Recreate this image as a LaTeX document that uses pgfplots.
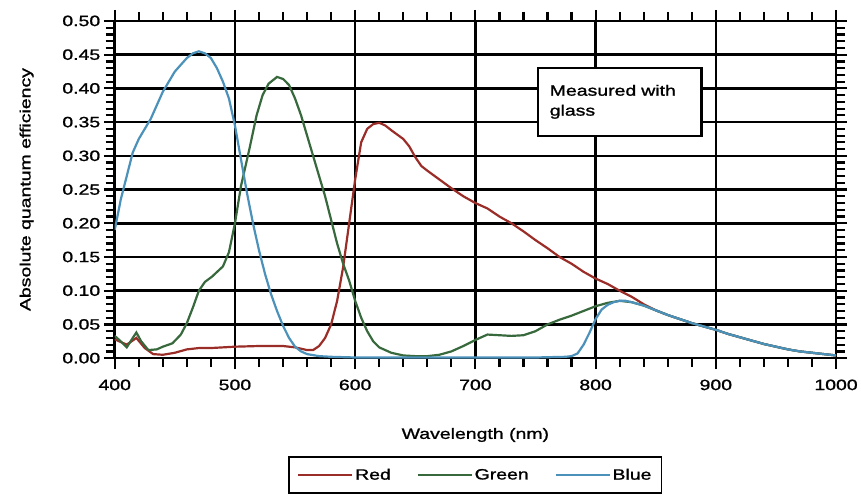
\documentclass[border=0pt]{standalone}
\usepackage{pgfplots}
\pgfplotsset{compat=1.18}
\usepackage{fontspec}
\setmainfont[FakeStretch=1.3, FakeBold=1.2]{Liberation Sans}

\definecolor{cred}{RGB}{155,45,40}
\definecolor{cgreen}{RGB}{55,105,60}
\definecolor{cblue}{RGB}{75,145,185}

\begin{document}
\begin{tikzpicture}
\begin{axis}[
    scale only axis,
    width=723pt, height=338pt,
    xmin=400, xmax=1000,
    ymin=0, ymax=0.5,
    xtick={400,500,...,1000},
    ytick={0,0.05,...,0.5},
    minor x tick num=4,
    minor y tick num=4,
    tick align=outside,
    major tick length=11pt,
    minor tick length=9pt,
    tick style={black, line width=2.2pt},
    grid=major,
    major grid style={black, line width=2.6pt},
    axis line style={black, line width=2.6pt},
    tick label style={font=\fontsize{15}{17}\selectfont},
    /pgf/number format/assume math mode=true,
    yticklabel style={/pgf/number format/.cd, fixed, fixed zerofill, precision=2},
    xticklabel style={yshift=-7pt, /pgf/number format/.cd, fixed, set thousands separator={}},
    xlabel={Wavelength (nm)},
    ylabel={Absolute quantum efficiency},
    label style={font=\fontsize{15}{17}\selectfont},
    xlabel style={yshift=-31pt},
    ylabel style={yshift=22pt},
    legend columns=3,
    legend style={
        at={(0.5,-0.29)}, anchor=north,
        draw=black, line width=1.8pt,
        font=\fontsize{15}{17}\selectfont,
        /tikz/every even column/.append style={column sep=24pt},
        inner xsep=8pt, inner ysep=10pt,
    },
    legend image code/.code={\draw[#1, line width=2pt] (0pt,0pt) -- (54pt,0pt);},
    every axis plot/.append style={line width=2.2pt, no marks},
]
\addplot[cred] coordinates {
(400,0.028) (410,0.02) (418,0.03) (425,0.015) (432,0.006) (440,0.005)
(450,0.008) (460,0.013) (470,0.015) (480,0.015) (500,0.017) (520,0.018)
(540,0.018) (550,0.016) (560,0.012) (565,0.012) (570,0.018) (575,0.03)
(580,0.05) (585,0.085) (590,0.135) (595,0.2) (600,0.265) (605,0.32)
(610,0.34) (615,0.347) (620,0.349) (625,0.345) (630,0.338) (640,0.325)
(645,0.314) (650,0.298) (655,0.285) (660,0.278) (670,0.265) (680,0.252)
(690,0.24) (700,0.23) (710,0.222) (720,0.21) (730,0.2) (740,0.188)
(750,0.175) (760,0.163) (770,0.15) (780,0.14) (790,0.128) (800,0.118)
(810,0.11) (820,0.1) (830,0.091) (840,0.08) (850,0.071) (860,0.064)
(870,0.058) (880,0.052) (890,0.047) (900,0.042) (910,0.036) (920,0.031)
(930,0.026) (940,0.021) (950,0.017) (960,0.013) (970,0.01) (980,0.008)
(990,0.006) (1000,0.004)
};
\addplot[cgreen] coordinates {
(400,0.033) (405,0.025) (410,0.016) (415,0.03) (418,0.038) (422,0.025)
(428,0.012) (435,0.013) (440,0.017) (448,0.022) (455,0.035) (460,0.052)
(465,0.075) (470,0.1) (475,0.113) (481,0.121) (490,0.136) (495,0.157)
(500,0.2) (505,0.255) (512,0.31) (518,0.36) (523,0.39) (528,0.407)
(535,0.417) (540,0.414) (545,0.405) (550,0.385) (555,0.36) (560,0.33)
(565,0.3) (570,0.27) (575,0.24) (580,0.205) (585,0.17) (590,0.14)
(595,0.115) (600,0.085) (605,0.06) (610,0.04) (615,0.025) (620,0.016)
(630,0.008) (640,0.004) (650,0.003) (660,0.003) (670,0.005) (680,0.01)
(690,0.018) (700,0.027) (710,0.035) (720,0.034) (730,0.033) (740,0.034)
(750,0.04) (760,0.05) (770,0.057) (780,0.063) (790,0.07) (800,0.077)
(810,0.082) (820,0.085) (830,0.083) (840,0.078) (850,0.071) (860,0.064)
(870,0.058) (880,0.052) (890,0.047) (900,0.042) (910,0.036) (920,0.031)
(930,0.026) (940,0.021) (950,0.017) (960,0.013) (970,0.01) (980,0.008)
(990,0.006) (1000,0.004)
};
\addplot[cblue] coordinates {
(400,0.19) (405,0.235) (410,0.27) (415,0.305) (420,0.325) (430,0.355)
(440,0.395) (450,0.425) (460,0.445) (465,0.452) (470,0.455) (475,0.452)
(480,0.445) (485,0.43) (490,0.41) (495,0.385) (500,0.345) (505,0.295)
(510,0.245) (515,0.2) (520,0.16) (525,0.125) (530,0.095) (535,0.07)
(540,0.048) (545,0.03) (550,0.017) (555,0.01) (560,0.006) (570,0.003)
(580,0.002) (600,0.001) (650,0.001) (700,0.001) (750,0.001) (775,0.002)
(780,0.003) (785,0.007) (790,0.02) (795,0.038) (800,0.058) (805,0.072)
(810,0.079) (815,0.083) (820,0.085) (825,0.085) (830,0.083) (840,0.078)
(850,0.071) (860,0.064) (870,0.058) (880,0.052) (890,0.047) (900,0.042)
(910,0.036) (920,0.031) (930,0.026) (940,0.021) (950,0.017) (960,0.013)
(970,0.01) (980,0.008) (990,0.006) (1000,0.004)
};
\legend{Red, Green, Blue}
\node[draw=black, line width=2.2pt, fill=white, anchor=north west,
      minimum width=163pt, minimum height=68pt, text width=140pt,
      align=left, inner xsep=12pt, font=\fontsize{15}{20}\selectfont]
  at (axis cs:751,0.432) {Measured with\\glass};
\end{axis}
\path ([xshift=-115pt,yshift=21pt]current axis.north west)
  rectangle ([xshift=23pt,yshift=-136pt]current axis.south east);
\end{tikzpicture}
\end{document}
